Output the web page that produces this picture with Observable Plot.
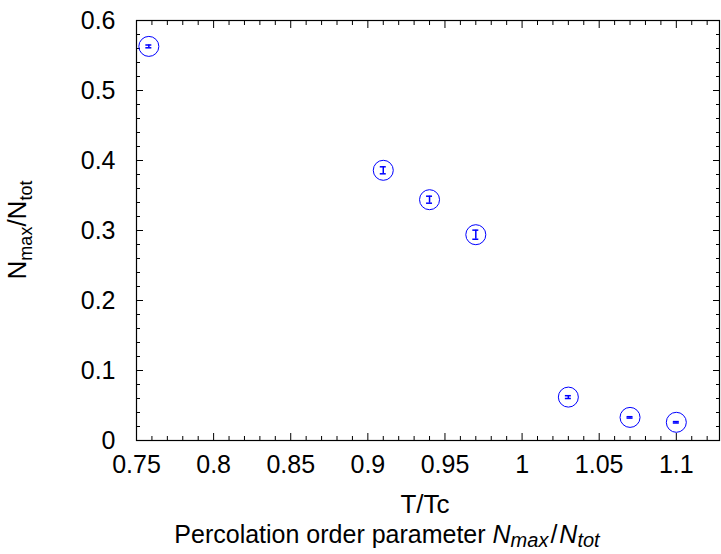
<!DOCTYPE html>
<html><head><meta charset="utf-8">
<script src="https://cdn.jsdelivr.net/npm/d3@7"></script>
<script src="https://cdn.jsdelivr.net/npm/@observablehq/plot@0.6"></script>
<style>body{margin:0;background:#fff}</style>
</head><body><div id="chart"></div>
<script>
// Data
const temps = [0.758, 0.91, 0.94, 0.97, 1.03, 1.07, 1.1];
const nmaxRatio = [0.563, 0.386, 0.344, 0.294, 0.062, 0.033, 0.026];
const nmaxErr = [0.002, 0.005, 0.005, 0.0065, 0.002, 0.001, 0.001];

const xTicks = [0.75, 0.8, 0.85, 0.9, 0.95, 1, 1.05, 1.1];
const xTickLabels = ["0.75", "0.8", "0.85", "0.9", "0.95", "1", "1.05", "1.1"];
const yTicks = [0, 0.1, 0.2, 0.3, 0.4, 0.5, 0.6];
const yTickLabels = ["0", "0.1", "0.2", "0.3", "0.4", "0.5", "0.6"];
const xMinor = d3.range(75, 113).map(i => i / 100).filter(v => !xTicks.some(t => Math.abs(t - v) < 1e-9));
const yMinor = d3.range(0, 31).map(i => i / 50).filter(v => !yTicks.some(t => Math.abs(t - v) < 1e-9));

const data = temps.map((t, i) => ({t, v: nmaxRatio[i], lo: nmaxRatio[i] - nmaxErr[i], hi: nmaxRatio[i] + nmaxErr[i]}));
const blue = "#0000ff";

const chart = Plot.plot({
  width: 721, height: 554,
  marginLeft: 136, marginRight: 2, marginTop: 20, marginBottom: 114,
  style: {fontFamily: "'Liberation Sans', Arial, Helvetica, sans-serif", fontSize: "25px", color: "#000", background: "#fff"},
  x: {domain: [0.75, 1.128], label: null},
  y: {domain: [0, 0.6], label: null},
  marks: [
    Plot.axisX(xTicks, {anchor: "bottom", tickSize: 0, tickPadding: 15, tickFormat: d => xTickLabels[xTicks.indexOf(d)], label: null}),
    Plot.axisY(yTicks, {anchor: "left", tickSize: 0, tickPadding: 21, tickFormat: d => yTickLabels[yTicks.indexOf(d)], label: null}),
    Plot.axisX(xTicks, {anchor: "bottom", tickSize: -7, fill: "none", label: null}),
    Plot.axisX(xTicks, {anchor: "top", tickSize: -7, fill: "none", label: null}),
    Plot.axisX(xMinor, {anchor: "bottom", tickSize: -4, fill: "none", label: null}),
    Plot.axisX(xMinor, {anchor: "top", tickSize: -4, fill: "none", label: null}),
    Plot.axisY(yTicks, {anchor: "left", tickSize: -7, fill: "none", label: null}),
    Plot.axisY(yTicks, {anchor: "right", tickSize: -7, fill: "none", label: null}),
    Plot.axisY(yMinor, {anchor: "left", tickSize: -4, fill: "none", label: null}),
    Plot.axisY(yMinor, {anchor: "right", tickSize: -4, fill: "none", label: null}),
    Plot.frame({stroke: "#000", strokeWidth: 1.2}),
    Plot.ruleX(data, {x: "t", y1: "lo", y2: "hi", stroke: blue, strokeWidth: 1.5}),
    Plot.ruleY(data, {y: "lo", x1: "t", x2: "t", insetLeft: -3, insetRight: -3, stroke: blue, strokeWidth: 1.5}),
    Plot.ruleY(data, {y: "hi", x1: "t", x2: "t", insetLeft: -3, insetRight: -3, stroke: blue, strokeWidth: 1.5}),
    Plot.dot(data, {x: "t", y: "v", r: 10, stroke: blue, fill: "none", strokeWidth: 1})
  ]
});

const svg = d3.select(chart);
const fam = "'Liberation Sans', Arial, Helvetica, sans-serif";

// y-axis label N_max/N_tot
const yl = svg.append("text")
  .attr("transform", "translate(26,230) rotate(-90)")
  .attr("text-anchor", "middle").attr("font-family", fam).attr("font-size", 26).attr("fill", "#000");
yl.append("tspan").text("N");
yl.append("tspan").attr("font-size", 18).attr("dy", 6).text("max");
yl.append("tspan").attr("dy", -6).text("/N");
yl.append("tspan").attr("font-size", 18).attr("dy", 6).text("tot");

// x-axis label
svg.append("text").attr("x", 425).attr("y", 513).attr("text-anchor", "middle")
  .attr("font-family", fam).attr("font-size", 26).attr("fill", "#000").text("T/Tc");

// caption title
const tt = svg.append("text").attr("x", 387).attr("y", 543).attr("text-anchor", "middle")
  .attr("font-family", fam).attr("font-size", 25).attr("fill", "#000");
tt.append("tspan").text("Percolation order parameter ");
tt.append("tspan").attr("font-style", "italic").text("N");
tt.append("tspan").attr("font-style", "italic").attr("font-size", 20).attr("dy", 4).text("max");
tt.append("tspan").attr("dy", -4).attr("dx", 2).text("/");
tt.append("tspan").attr("font-style", "italic").attr("dx", 2).text("N");
tt.append("tspan").attr("font-style", "italic").attr("font-size", 20).attr("dy", 4).text("tot");

document.getElementById("chart").appendChild(chart);
</script>
</body></html>
